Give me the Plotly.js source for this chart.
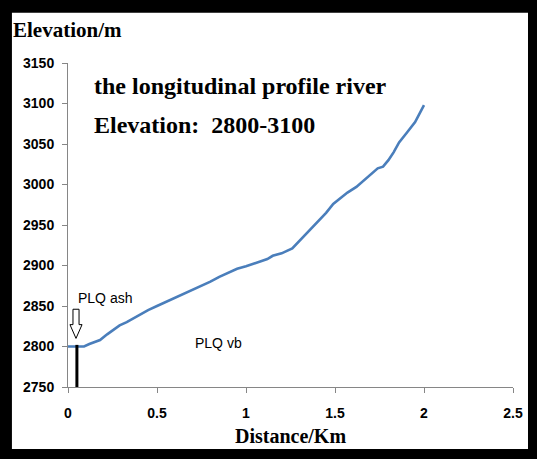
<!DOCTYPE html>
<html>
<head>
<meta charset="utf-8">
<script src="https://cdn.plot.ly/plotly-3.0.1.min.js"></script>
<style>html,body{margin:0;padding:0;background:#fff;}#chart{width:537px;height:459px;}</style>
</head>
<body>
<div id="chart"></div>
<script>
// River longitudinal profile: distance (km) vs elevation (m)
const distanceKm = [0, 0.05, 0.09, 0.12, 0.15, 0.18, 0.22, 0.25, 0.29, 0.33, 0.37, 0.4, 0.45, 0.5, 0.55, 0.6, 0.65, 0.7, 0.74, 0.8, 0.85, 0.9, 0.95, 1.0, 1.04, 1.08, 1.12, 1.15, 1.2, 1.26, 1.3, 1.35, 1.4, 1.45, 1.49, 1.53, 1.57, 1.62, 1.66, 1.7, 1.74, 1.77, 1.8, 1.83, 1.86, 1.9, 1.95, 2.0];
const elevationM = [2800, 2800, 2800, 2803, 2806, 2808, 2815, 2820, 2826, 2830, 2835, 2839, 2845, 2850, 2855, 2860, 2864, 2869, 2874, 2880, 2886, 2891, 2896, 2899, 2902, 2905, 2908, 2912, 2915, 2921, 2930, 2942, 2953, 2965, 2976, 2983, 2990, 2997, 3005, 3012, 3020, 3022, 3030, 3040, 3052, 3063, 3077, 3098];

// Marker for the PLQ ash boundary
const boundaryX = [0.05, 0.05];
const boundaryY = [2750, 2802];

const xTicks = [0, 0.5, 1, 1.5, 2, 2.5];
const xTickLabels = ['0', '0.5', '1', '1.5', '2', '2.5'];
const yTicks = [2750, 2800, 2850, 2900, 2950, 3000, 3050, 3100, 3150];
const yTickLabels = ['2750', '2800', '2850', '2900', '2950', '3000', '3050', '3100', '3150'];

const serif = 'Liberation Serif, Times New Roman, serif';
const sans = 'Liberation Sans, Arial, sans-serif';

const traces = [
  {x: distanceKm, y: elevationM, type: 'scatter', mode: 'lines',
   line: {color: '#4A7EBB', width: 2.6}, hoverinfo: 'x+y', showlegend: false},
  {x: boundaryX, y: boundaryY, type: 'scatter', mode: 'lines',
   line: {color: '#000000', width: 3}, hoverinfo: 'skip', showlegend: false}
];

// hollow down arrow above the boundary marker (data coordinates)
const arrowPath = 'M 0.028 2846 L 0.062 2846 L 0.062 2827 L 0.079 2827 L 0.045 2810 L 0.011 2827 L 0.028 2827 Z';

const layout = {
  width: 537, height: 459,
  margin: {l: 68, r: 24, t: 63, b: 72},
  paper_bgcolor: '#ffffff', plot_bgcolor: '#ffffff',
  showlegend: false,
  xaxis: {
    range: [0, 2.5], tickvals: xTicks, ticktext: xTickLabels,
    showgrid: false, zeroline: false, showline: true, linecolor: '#868686', linewidth: 1,
    ticks: 'outside', ticklen: 5, tickcolor: '#868686', ticklabelstandoff: 8,
    tickfont: {family: sans, size: 14, color: '#000', weight: 'bold'},
    title: {text: 'Distance/Km', font: {family: serif, size: 20, color: '#000', weight: 'bold'}, standoff: 9}
  },
  yaxis: {
    range: [2750, 3150], tickvals: yTicks, ticktext: yTickLabels,
    showgrid: false, zeroline: false, showline: true, linecolor: '#868686', linewidth: 1,
    ticks: 'outside', ticklen: 5, tickcolor: '#868686', ticklabelstandoff: 5,
    tickfont: {family: sans, size: 14, color: '#000', weight: 'bold'}
  },
  annotations: [
    {text: 'Elevation/m', xref: 'paper', yref: 'paper', x: -0.128, y: 1.102, xanchor: 'left', yanchor: 'middle',
     showarrow: false, font: {family: serif, size: 21, color: '#000', weight: 'bold'}},
    {text: 'the longitudinal profile river', xref: 'paper', yref: 'paper', x: 0.054, y: 0.929, xanchor: 'left', yanchor: 'middle',
     showarrow: false, font: {family: serif, size: 24, color: '#000', weight: 'bold'}},
    {text: 'Elevation:\u00a0 2800-3100', xref: 'paper', yref: 'paper', x: 0.054, y: 0.809, xanchor: 'left', yanchor: 'middle',
     showarrow: false, font: {family: serif, size: 24, color: '#000', weight: 'bold'}},
    {text: 'PLQ ash', xref: 'x', yref: 'y', x: 0.045, y: 2860, xanchor: 'left', yanchor: 'middle',
     showarrow: false, font: {family: sans, size: 14, color: '#000'}},
    {text: 'PLQ vb', xref: 'x', yref: 'y', x: 0.70, y: 2804, xanchor: 'left', yanchor: 'middle',
     showarrow: false, font: {family: sans, size: 14, color: '#000'}}
  ],
  shapes: [
    {type: 'path', xref: 'x', yref: 'y', path: arrowPath, line: {color: '#000', width: 1}, fillcolor: '#fff'},
    // black frame round the picture
    {type: 'rect', xref: 'paper', yref: 'paper', x0: -0.16, x1: 1.06, y0: 1.155, y1: 1.2, fillcolor: '#000', line: {width: 0}},
    {type: 'rect', xref: 'paper', yref: 'paper', x0: -0.16, x1: -0.126, y0: -0.23, y1: 1.2, fillcolor: '#000', line: {width: 0}},
    {type: 'rect', xref: 'paper', yref: 'paper', x0: 1.0337, x1: 1.06, y0: -0.23, y1: 1.2, fillcolor: '#000', line: {width: 0}},
    {type: 'rect', xref: 'paper', yref: 'paper', x0: -0.16, x1: 1.06, y0: -0.23, y1: -0.191, fillcolor: '#000', line: {width: 0}}
  ]
};

Plotly.newPlot('chart', traces, layout, {displayModeBar: false, staticPlot: true});
</script>
</body>
</html>
